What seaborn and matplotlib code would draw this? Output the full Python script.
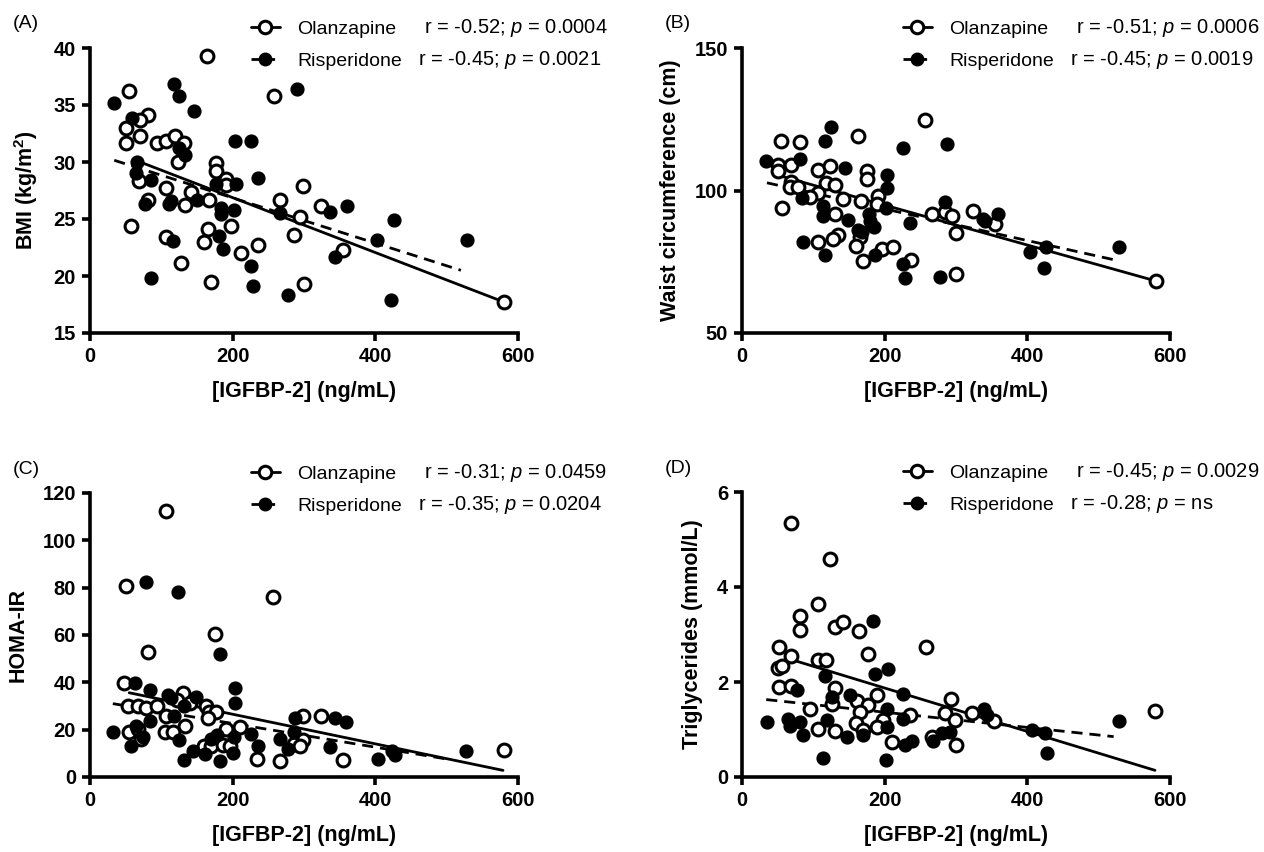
import numpy as np
import pandas as pd
import matplotlib
matplotlib.use('Agg')
import matplotlib.pyplot as plt
from matplotlib.lines import Line2D
import seaborn as sns

# (A) BMI
bmi_olz_x = [164, 54, 258, 82, 70, 50, 70, 51, 94, 107, 119, 132, 123, 176, 176, 190, 190, 69, 106, 141,
             299, 167, 81, 133, 267, 324, 295, 57, 166, 198, 106, 160, 286, 235, 354, 211, 127, 170, 300, 581]
bmi_olz_y = [39.3, 36.2, 35.8, 34.1, 33.7, 33.0, 32.3, 31.7, 31.7, 31.8, 32.3, 31.7, 30.0, 29.9, 29.2, 28.5, 28.0, 28.3, 27.7, 27.4,
             27.9, 26.7, 26.7, 26.2, 26.7, 26.1, 25.2, 24.4, 24.1, 24.4, 23.4, 23.0, 23.6, 22.7, 22.3, 22.0, 21.1, 19.5, 19.3, 17.7]
bmi_ris_x = [33, 118, 125, 146, 59, 290, 203, 225, 125, 133, 66, 64, 86, 177, 205, 235, 77, 113, 111,
             150, 184, 184, 202, 266, 337, 360, 426, 117, 181, 186, 403, 528, 343, 226, 86, 228, 278, 422]
bmi_ris_y = [35.2, 36.8, 35.8, 34.5, 33.9, 36.4, 31.8, 31.8, 31.2, 30.6, 30.0, 29.0, 28.4, 28.1, 28.1, 28.6, 26.3, 26.6, 26.3,
             26.7, 26.0, 25.4, 25.8, 25.5, 25.6, 26.1, 24.9, 23.1, 23.5, 22.4, 23.2, 23.2, 21.7, 20.9, 19.8, 19.1, 18.3, 17.9]
bmi_fit_olz_x, bmi_fit_olz_y = [64, 581], [30.15, 17.7]
bmi_fit_ris_x, bmi_fit_ris_y = [34, 520], [30.15, 20.5]

# (B) Waist circumference
waist_olz_x = [54, 82, 162, 257, 51, 51, 68, 107, 124, 175, 175, 68, 67, 79, 118, 131, 107, 95, 141, 167, 191,
               189, 56, 131, 267, 285, 294, 324, 354, 300, 134, 128, 106, 165, 160, 196, 211, 170, 237, 300, 581]
waist_olz_y = [117.4, 116.9, 119.1, 124.9, 108.8, 106.7, 108.8, 107.3, 108.7, 107.0, 103.9, 103.1, 101.3, 101.1, 102.7, 101.9, 99.2, 97.8, 96.9, 96.3, 98.0,
               95.1, 94.0, 91.8, 91.9, 92.4, 91.0, 92.8, 88.2, 85.2, 84.3, 83.0, 82.1, 83.8, 80.6, 79.3, 80.1, 75.3, 75.6, 70.8, 68.2]
waist_ris_x = [33, 81, 125, 117, 288, 225, 145, 203, 203, 84, 113, 114, 202, 149, 178, 180, 185, 162, 168, 235,
               285, 338, 359, 85, 116, 186, 226, 228, 278, 404, 426, 423, 529, 341]
waist_ris_y = [110.4, 111.2, 122.2, 117.4, 116.3, 114.8, 107.9, 105.4, 100.8, 97.3, 94.4, 91.0, 93.8, 89.6, 91.6, 89.3, 87.1, 86.2, 85.4, 88.5,
               95.8, 90.1, 91.6, 82.0, 77.5, 77.3, 74.2, 69.4, 69.7, 78.4, 80.2, 72.7, 80.3, 89.3]
waist_fit_olz_x, waist_fit_olz_y = [51, 581], [105.3, 68.2]
waist_fit_ris_x, waist_fit_ris_y = [35, 525], [102.7, 75.5]

# (C) HOMA-IR
homa_olz_x = [106, 51, 257, 175, 81, 48, 130, 122, 140, 53, 67, 79, 94, 106, 163, 167, 177, 165, 299, 324,
              133, 210, 190, 55, 67, 105, 117, 71, 299, 286, 294, 160, 169, 187, 196, 581, 234, 267, 354]
homa_olz_y = [112.3, 80.7, 76.2, 60.4, 52.9, 39.7, 35.5, 32.6, 31.2, 29.8, 30.0, 29.2, 29.8, 25.8, 30.1, 27.4, 27.4, 25.1, 25.7, 25.7,
              21.6, 21.0, 20.1, 19.2, 20.1, 19.2, 18.9, 16.1, 15.7, 14.0, 13.3, 13.2, 13.2, 13.5, 13.3, 11.6, 7.7, 6.7, 7.0]
homa_ris_x = [123, 78, 182, 203, 203, 63, 84, 110, 148, 114, 132, 118, 84, 343, 359, 288, 32, 64, 74, 125,
              58, 178, 169, 202, 226, 267, 286, 235, 144, 161, 201, 278, 337, 132, 182, 404, 423, 427, 527]
homa_ris_y = [78.2, 82.5, 51.9, 37.5, 31.2, 39.7, 36.9, 34.7, 33.7, 33.3, 29.8, 25.6, 23.6, 24.9, 23.2, 25.0, 18.9, 21.6, 16.8, 15.7,
              13.1, 17.8, 16.1, 16.8, 18.2, 16.1, 18.9, 13.3, 10.8, 9.8, 10.1, 11.9, 12.6, 7.3, 6.6, 7.7, 10.9, 9.3, 10.9]
homa_fit_olz_x, homa_fit_olz_y = [55, 579], [35.6, 2.8]
homa_fit_ris_x, homa_fit_ris_y = [32, 498], [31.0, 7.7]

# (D) Triglycerides
tg_olz_x = [68, 124, 107, 81, 82, 130, 142, 164, 258, 52, 69, 176, 50, 56, 106, 118, 52, 69, 130, 189, 161,
            177, 126, 96, 165, 293, 285, 323, 236, 160, 197, 299, 353, 579, 107, 189, 169, 131, 267, 210, 300]
tg_olz_y = [5.35, 4.58, 3.64, 3.40, 3.10, 3.15, 3.27, 3.08, 2.73, 2.74, 2.55, 2.58, 2.29, 2.34, 2.46, 2.46, 1.90, 1.91, 1.87, 1.72, 1.60,
            1.52, 1.54, 1.43, 1.36, 1.65, 1.35, 1.34, 1.31, 1.14, 1.19, 1.19, 1.17, 1.38, 1.01, 1.06, 0.98, 0.96, 0.84, 0.73, 0.68]
tg_ris_x = [183, 205, 186, 117, 77, 226, 151, 126, 203, 339, 343, 35, 65, 67, 81, 119, 226, 203, 406, 528, 86,
            147, 170, 425, 280, 292, 238, 228, 268, 428, 114, 202]
tg_ris_y = [3.29, 2.27, 2.17, 2.13, 1.83, 1.75, 1.73, 1.68, 1.44, 1.44, 1.30, 1.15, 1.23, 1.08, 1.15, 1.19, 1.22, 1.06, 1.00, 1.17, 0.89,
            0.85, 0.88, 0.92, 0.92, 0.95, 0.76, 0.67, 0.75, 0.50, 0.39, 0.36]
tg_fit_olz_x, tg_fit_olz_y = [63, 579], [2.50, 0.14]
tg_fit_ris_x, tg_fit_ris_y = [34, 521], [1.63, 0.85]

letters = ['(A)', '(B)', '(C)', '(D)']
ylabels = ['BMI (kg/m$\\mathbf{^2}$)', 'Waist circumference (cm)', 'HOMA-IR', 'Triglycerides (mmol/L)']
ylims = [(15, 40), (50, 150), (0, 120), (0, 6)]
yticks = [[15, 20, 25, 30, 35, 40], [50, 100, 150], [0, 20, 40, 60, 80, 100, 120], [0, 2, 4, 6]]
xticks = [0, 200, 400, 600]
olz_stats = ['r = -0.52; $p$ = 0.0004', 'r = -0.51; $p$ = 0.0006', 'r = -0.31; $p$ = 0.0459', 'r = -0.45; $p$ = 0.0029']
ris_stats = ['r = -0.45; $p$ = 0.0021', 'r = -0.45; $p$ = 0.0019', 'r = -0.35; $p$ = 0.0204', 'r = -0.28; $p$ = ns']

panel_data = [
    (bmi_olz_x, bmi_olz_y, bmi_ris_x, bmi_ris_y),
    (waist_olz_x, waist_olz_y, waist_ris_x, waist_ris_y),
    (homa_olz_x, homa_olz_y, homa_ris_x, homa_ris_y),
    (tg_olz_x, tg_olz_y, tg_ris_x, tg_ris_y),
]
panel_fits = [
    (bmi_fit_olz_x, bmi_fit_olz_y, bmi_fit_ris_x, bmi_fit_ris_y),
    (waist_fit_olz_x, waist_fit_olz_y, waist_fit_ris_x, waist_fit_ris_y),
    (homa_fit_olz_x, homa_fit_olz_y, homa_fit_ris_x, homa_fit_ris_y),
    (tg_fit_olz_x, tg_fit_olz_y, tg_fit_ris_x, tg_fit_ris_y),
]

sns.set_style('ticks')
plt.rcParams['font.family'] = ['Liberation Sans', 'DejaVu Sans']
plt.rcParams['mathtext.fontset'] = 'custom'
plt.rcParams['mathtext.rm'] = 'Liberation Sans'
plt.rcParams['mathtext.it'] = 'Liberation Sans:italic'
plt.rcParams['mathtext.bf'] = 'Liberation Sans:bold'
for key in ['text.color', 'axes.labelcolor', 'xtick.color', 'ytick.color', 'axes.edgecolor']:
    plt.rcParams[key] = 'black'

W, H = 1264, 852
fig = plt.figure(figsize=(W / 100, H / 100), dpi=100)

# axes boxes in pixels: left, top, right, bottom
boxes = [(90, 48, 518, 333), (742, 48, 1170, 333), (90, 493, 518, 777), (742, 492, 1170, 777)]
dash = (0, (4, 2.5))

for i, (l, t, r, b) in enumerate(boxes):
    ax = fig.add_axes([l / W, 1 - b / H, (r - l) / W, (b - t) / H])
    ox, oy, rx, ry = panel_data[i]
    fox, foy, frx, fry = panel_fits[i]

    # fitted lines
    sns.lineplot(x=fox, y=foy, ax=ax, color='black', lw=2, zorder=2)
    sns.lineplot(x=frx, y=fry, ax=ax, color='black', lw=2, linestyle=dash, zorder=2)

    # points
    sns.scatterplot(x=ox, y=oy, ax=ax, s=85, color='white', edgecolor='black',
                    linewidth=2.2, zorder=3, clip_on=False)
    sns.scatterplot(x=rx, y=ry, ax=ax, s=85, color='black', edgecolor='black',
                    linewidth=1, zorder=3, clip_on=False)

    ax.set_xlim(0, 600)
    ax.set_ylim(*ylims[i])
    ax.set_xticks(xticks)
    ax.set_yticks(yticks[i])
    sns.despine(ax=ax)
    for s in ['left', 'bottom']:
        ax.spines[s].set_linewidth(2.6)
        ax.spines[s].set_color('black')
    ax.tick_params(width=2.6, length=6, labelsize=14.5, pad=4, color='black', labelcolor='black')
    plt.setp(ax.get_xticklabels() + ax.get_yticklabels(), fontweight='bold')
    ax.set_xlabel('[IGFBP-2] (ng/mL)', fontsize=15.5, fontweight='bold', labelpad=11, color='black')
    ax.set_ylabel(ylabels[i], fontsize=15.5, fontweight='bold', labelpad=10, color='black')

    handles = [Line2D([], [], color='black', lw=2, marker='o', ms=9, mfc='white', mec='black', mew=2.2),
               Line2D([], [], color='black', lw=2, linestyle=(0, (3, 2.5)), marker='o', ms=9,
                      mfc='black', mec='black')]
    leg = ax.legend(handles, ['Olanzapine', 'Risperidone'], loc='upper left',
                    bbox_to_anchor=(0.375, (b - (t - 28)) / (b - t)),
                    frameon=False, fontsize=14, handlelength=1.5, handletextpad=0.9, labelspacing=0.76,
                    borderpad=0, borderaxespad=0)
    for txt in leg.get_texts():
        txt.set_color('black')
    ax.text(0.78, (b - (t - 20)) / (b - t), olz_stats[i], transform=ax.transAxes,
            fontsize=14.5, va='center', ha='left', color='black')
    ax.text(0.766, (b - (t + 12)) / (b - t), ris_stats[i], transform=ax.transAxes,
            fontsize=14.5, va='center', ha='left', color='black')

    fig.text((l - 77) / W, 1 - (t - 24) / H, letters[i], fontsize=14, va='center', ha='left', color='black')

fig.savefig('out.png', dpi=100)
